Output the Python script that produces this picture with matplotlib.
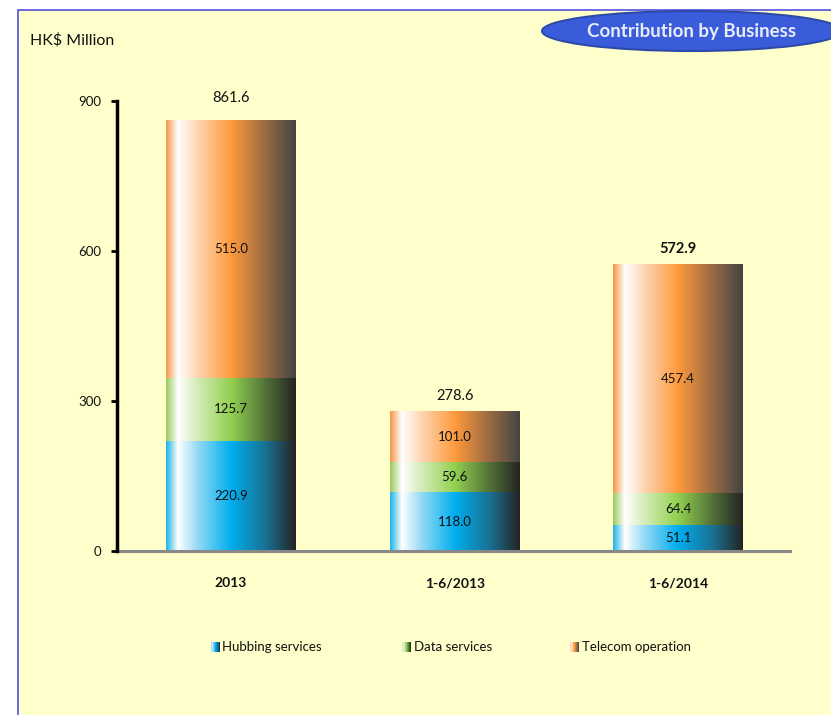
import numpy as np
import matplotlib
matplotlib.use("Agg")
import matplotlib.pyplot as plt
from matplotlib.colors import LinearSegmentedColormap
from matplotlib.patches import Rectangle, Ellipse

plt.rcParams['font.family'] = ['Lato', 'DejaVu Sans']

categories = ["2013", "1-6/2013", "1-6/2014"]
series_names = ["Hubbing services", "Data services", "Telecom operation"]
hubbing = [220.9, 118.0, 51.1]
data_services = [125.7, 59.6, 64.4]
telecom = [515.0, 101.0, 457.4]
totals = [861.6, 278.6, 572.9]
total_bold = [False, False, True]
yticks = [0, 300, 600, 900]

gradients = {
    "Hubbing services": ["#1EB4E6", "#FFFFFF", "#8FD8F5", "#00AEEF", "#1B6E8E", "#232323"],
    "Data services": ["#9BCB5F", "#FFFFFF", "#D3EBB5", "#92D050", "#4F6D36", "#242424"],
    "Telecom operation": ["#F79646", "#FFFFFF", "#FDD3AE", "#FF9A3C", "#946843", "#444444"],
}
stops = [0.0, 0.09, 0.25, 0.5, 0.78, 1.0]

W, H = 831, 715
fig = plt.figure(figsize=(W / 100, H / 100), dpi=100)
fig.patch.set_facecolor("white")

# background frame
fig.patches.append(Rectangle((18 / W, -0.01), 1.0, (H - 10) / H + 0.01,
                             transform=fig.transFigure, facecolor="#FFFFCC",
                             edgecolor="#5050E0", linewidth=1.2, zorder=-10))

ax = fig.add_axes([117 / W, (H - 551) / H, (790 - 117) / W, 450 / H])
ax.set_facecolor("none")

cmaps = {k: LinearSegmentedColormap.from_list(k, list(zip(stops, v))) for k, v in gradients.items()}
grad = np.linspace(0, 1, 256).reshape(1, -1)
bw = 0.58
x = np.arange(len(categories))
series = [hubbing, data_services, telecom]
for i, xi in enumerate(x):
    bottom = 0
    for name, vals in zip(series_names, series):
        v = vals[i]
        ax.imshow(grad, cmap=cmaps[name], aspect="auto", interpolation="bilinear",
                  extent=[xi - bw / 2, xi + bw / 2, bottom, bottom + v], zorder=2)
        ax.text(xi, bottom + v / 2, f"{v:.1f}", ha="center", va="center",
                fontsize=9.5, color="#111111", zorder=3)
        bottom += v
    ax.annotate(f"{totals[i]:.1f}", (xi, totals[i]), xytext=(0, 16 if i else 22),
                textcoords="offset pixels", ha="center", va="center",
                fontsize=10.5, fontweight="bold" if total_bold[i] else "normal",
                color="#111111")

ax.set_xlim(-0.51, 2.5)
ax.set_ylim(0, 900)
ax.set_yticks(yticks)
ax.set_yticklabels([str(t) for t in yticks], fontsize=9.5, color="#111111")
ax.set_xticks(x)
ax.set_xticklabels(categories, fontsize=10, fontweight="bold", color="#111111")
ax.tick_params(axis="x", length=0, pad=19)
ax.tick_params(axis="y", length=4, width=2, pad=7, direction="out")
for s in ["top", "right"]:
    ax.spines[s].set_visible(False)
ax.spines["left"].set_linewidth(2.5)
ax.spines["left"].set_color("black")
ax.spines["bottom"].set_linewidth(2.2)
ax.spines["bottom"].set_color("#888888")
ax.spines["left"].set_zorder(4)

fig.text(30 / W, (H - 40) / H, "HK$ Million", fontsize=11.5, color="#111111", va="center")

# title badge
fig.patches.append(Ellipse((692 / W, (H - 31) / H), 300 / W, 40 / H,
                           transform=fig.transFigure, facecolor="#3A5CDB",
                           edgecolor="#2E4AA8", linewidth=1.5, zorder=5))
fig.text(692 / W, (H - 32) / H, "Contribution by Business", fontsize=13.5,
         fontweight="bold", color="#E8ECF8", ha="center", va="center", zorder=6)

# legend
leg_items = [(211, 222), (402, 414), (570, 582)]
for (sx, tx), name in zip(leg_items, series_names):
    lax = fig.add_axes([sx / W, (H - 652) / H, 9 / W, 10 / H])
    lax.imshow(grad, cmap=cmaps[name], aspect="auto", interpolation="bilinear")
    lax.axis("off")
    fig.text(tx / W, (H - 647) / H, name, fontsize=9.5, color="#111111", va="center")

fig.savefig("out.png", dpi=100)
